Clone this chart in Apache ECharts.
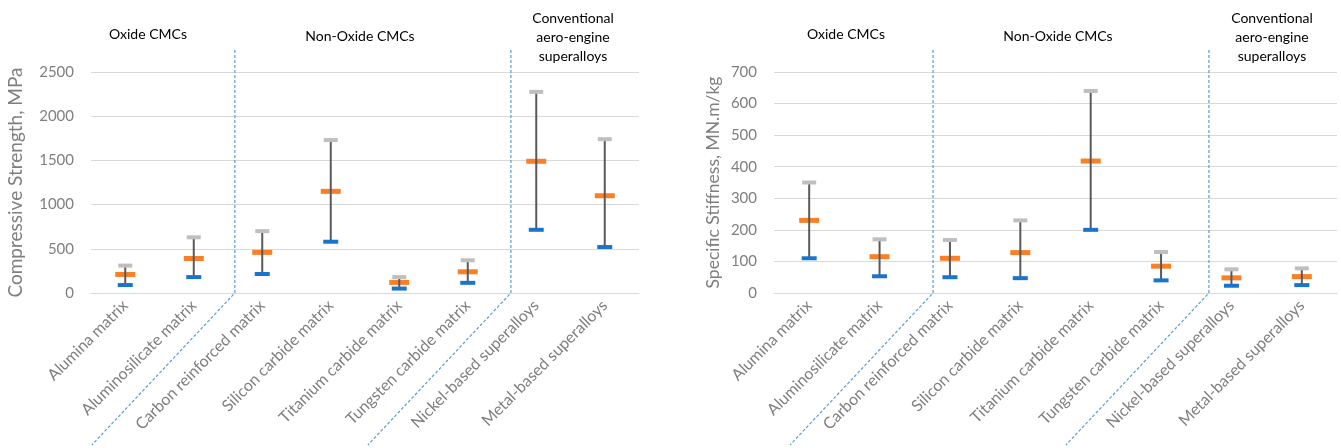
<!DOCTYPE html>
<html>
<head>
<meta charset="utf-8">
<script src="https://cdn.jsdelivr.net/npm/echarts@6/dist/echarts.min.js"></script>
<style>
  html, body { margin: 0; padding: 0; background: #fff; }
  #main { width: 1341px; height: 448px; }
</style>
</head>
<body>
<div id="main"></div>
<script>
const categories = ['Alumina matrix', 'Aluminosilicate matrix', 'Carbon reinforced matrix', 'Silicon carbide matrix',
  'Titanium carbide matrix', 'Tungsten carbide matrix', 'Nickel-based superalloys', 'Metal-based superalloys'];

// compressive strength, MPa
const strengthLow = [90, 180, 215, 580, 50, 115, 715, 520];
const strengthMid = [210, 390, 460, 1150, 120, 240, 1490, 1100];
const strengthHigh = [310, 630, 700, 1730, 180, 370, 2275, 1740];

// specific stiffness, MN.m/kg
const stiffnessLow = [110, 53, 50, 47, 200, 40, 23, 25];
const stiffnessMid = [230, 115, 110, 128, 418, 85, 48, 52];
const stiffnessHigh = [350, 170, 168, 230, 640, 130, 75, 78];

const strengthTicks = { min: 0, max: 2500, interval: 500 };
const stiffnessTicks = { min: 0, max: 700, interval: 100 };

// divider positions in category units (0 = first category centre)
const strengthDividers = [1.6, 5.63];
const stiffnessDividers = [1.76, 5.68];

const groupNames = ['Oxide CMCs', 'Non-Oxide CMCs', 'Conventional\naero-engine\nsuperalloys'];

const font = 'Lato, "Open Sans", sans-serif';
const grey = '#7f7f7f';

function rangeLine(lo, hi, axis) {
  return {
    type: 'custom',
    xAxisIndex: axis, yAxisIndex: axis,
    z: 3,
    renderItem: function (params, api) {
      const a = api.coord([api.value(0), api.value(1)]);
      const b = api.coord([api.value(0), api.value(2)]);
      return {
        type: 'line',
        shape: { x1: a[0], y1: a[1], x2: b[0], y2: b[1] },
        style: { stroke: '#595959', lineWidth: 2 }
      };
    },
    data: categories.map((c, i) => [i, lo[i], hi[i]])
  };
}

function caps(vals, axis, color, size, z) {
  return {
    type: 'scatter',
    xAxisIndex: axis, yAxisIndex: axis,
    symbol: 'rect',
    symbolSize: size,
    z: z,
    itemStyle: { color: color, opacity: 1 },
    data: vals.map((v, i) => [i, v])
  };
}

function xAxisFor(grid) {
  return {
    type: 'category', gridIndex: grid, data: categories,
    axisLine: { show: true, lineStyle: { color: '#d9d9d9', width: 1 } },
    axisTick: { show: false },
    axisLabel: { interval: 0, rotate: 45, color: grey, fontFamily: font, fontSize: 16, margin: 10 }
  };
}

function yAxisFor(grid, ticks, name, gap, nameSize) {
  return {
    type: 'value', gridIndex: grid,
    min: ticks.min, max: ticks.max, interval: ticks.interval,
    name: name, nameLocation: 'middle', nameGap: gap,
    nameTextStyle: { color: grey, fontFamily: font, fontSize: nameSize },
    axisLine: { show: false }, axisTick: { show: false },
    axisLabel: { color: grey, fontFamily: font, fontSize: 15, margin: 17, formatter: v => String(v) },
    splitLine: { lineStyle: { color: '#d9d9d9', width: 1 } }
  };
}

function groupText(x, y, text) {
  return {
    type: 'text', x: x, y: y,
    style: { text: text, fill: '#000', font: '14px ' + font, textAlign: 'center', textVerticalAlign: 'middle', lineHeight: 19 }
  };
}

const chart = echarts.init(document.getElementById('main'));
chart.setOption({
  animation: false,
  grid: [
    { left: 91, top: 72, width: 548, height: 221 },
    { left: 774, top: 72, width: 563, height: 221 }
  ],
  xAxis: [xAxisFor(0), xAxisFor(1)],
  yAxis: [
    yAxisFor(0, strengthTicks, 'Compressive Strength, MPa', 66, 19),
    yAxisFor(1, stiffnessTicks, 'Specific Stiffness, MN.m/kg', 52, 17.5)
  ],
  series: [
    caps(strengthMid, 0, '#fb7f26', [20, 5], 2),
    rangeLine(strengthLow, strengthHigh, 0),
    caps(strengthHigh, 0, '#bfbfbf', [14, 4], 4),
    caps(strengthLow, 0, '#1a74cc', [15, 4], 4),
    caps(stiffnessMid, 1, '#fb7f26', [20, 5], 2),
    rangeLine(stiffnessLow, stiffnessHigh, 1),
    caps(stiffnessHigh, 1, '#bfbfbf', [14, 4], 4),
    caps(stiffnessLow, 1, '#1a74cc', [15, 4], 4)
  ]
});

// dividers and group labels
const elements = [];
[[0, strengthDividers], [1, stiffnessDividers]].forEach(([axis, divs]) => {
  const p0 = chart.convertToPixel({ xAxisIndex: axis }, 0);
  const p1 = chart.convertToPixel({ xAxisIndex: axis }, 1);
  const yBase = chart.convertToPixel({ yAxisIndex: axis }, 0);
  const step = p1 - p0;
  divs.forEach(d => {
    const x = p0 + d * step;
    elements.push({
      type: 'polyline',
      shape: { points: [[x, 50], [x, yBase], [x - 143, yBase + 152]] },
      style: { stroke: '#5b9bd5', lineWidth: 1.2, lineDash: [3, 2], fill: null },
      z: 10
    });
  });
});
elements.push(groupText(148, 34, groupNames[0]));
elements.push(groupText(360, 36, groupNames[1]));
elements.push(groupText(573, 37, groupNames[2]));
elements.push(groupText(846, 34, groupNames[0]));
elements.push(groupText(1058, 36, groupNames[1]));
elements.push(groupText(1272, 37, groupNames[2]));
chart.setOption({ graphic: elements });
</script>
</body>
</html>
